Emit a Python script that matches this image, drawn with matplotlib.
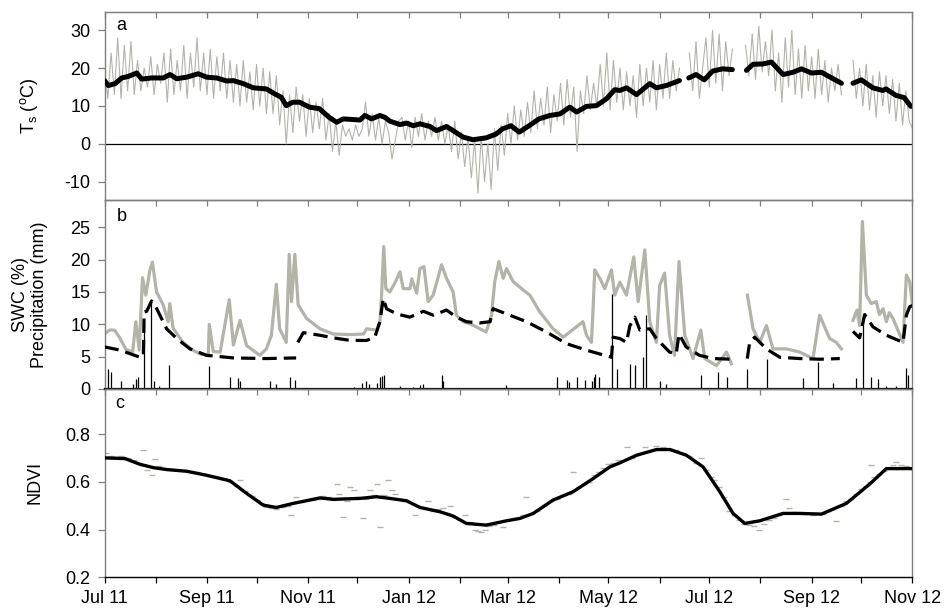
import numpy as np
import matplotlib
matplotlib.use('Agg')
import matplotlib.pyplot as plt
import matplotlib.dates as mdates
from datetime import datetime

plt.rcParams['font.family'] = ['Liberation Sans', 'DejaVu Sans']
plt.rcParams['axes.unicode_minus'] = False

# ---- data (days since 1 Jul 2011) ----
# soil temperature, half-hourly trace sampled every 2 days, split at logger gaps
ts_raw_1 = [20, 12, 24, 13, 28, 12, 26, 14, 27, 13,
            22, 14, 20, 15, 23, 13, 21, 16, 24, 11,
            25, 13, 22, 14, 26, 12, 24, 15, 28, 14,
            24, 13, 25, 12, 23, 14, 24, 12, 22, 11,
            21, 10, 22, 11, 19, 9, 21, 10, 20, 8,
            19, 8, 18, 5, 14, 0, 13, 3, 15, 6,
            13, 2, 12, 3, 11, 4, 12, 1, 8, -2,
            6, -3, 5, 2, 4, 1, 5, 2, 4, 11,
            2, 8, 1, 7, 0, 6, 3, -4, 1, 6,
            7, 1, 6, -1, 7, 2, 8, 1, 6, 2,
            7, 1, 6, 0, 5, -2, 6, -4, 3, -6,
            2, -9, 1, -13, 2, -10, 0, -12, 4, -7,
            5, -3, 8, 0, 10, 1, 9, 2, 11, 3,
            14, 4, 12, 5, 15, 3, 13, 6, 16, 5,
            17, 7, 15, -2, 14, 8, 18, 9, 16, 10,
            21, 10, 24, 9, 22, 11, 20, 9, 19, 10,
            18, 7, 21, 10, 20, 11, 22, 9, 21, 12,
            24, 12, 22, 14, 20]
ts_raw_2 = [24, 14, 27, 12, 20, 28, 15, 30, 16, 29, 14, 27, 18, 25]
ts_raw_3 = [26, 18, 29, 17, 31, 19, 27, 18, 30, 14, 24, 11, 28, 15, 30,
            13, 25, 12, 26, 14, 23, 12, 25, 13, 22, 11, 20, 14, 21, 13]
ts_raw_4 = [22, 12, 20, 10, 21, 9, 18, 7, 19, 10, 18, 8, 17, 6, 16, 5, 14, 6, 4]
ts_raw_start = [0, 354, 388, 453]

# daily mean soil temperature
ts_mean_1 = [(0, 16.7), (2.3, 15.4), (6.4, 15.9), (10.4, 17.4), (14.4, 17.8), (19.5, 18.7),
             (22.5, 17.1), (28.5, 17.4), (35.6, 17.4), (39.6, 18.3), (43.7, 17.2), (49.7, 17.6),
             (56.7, 18.5), (61.8, 17.6), (67.9, 17.4), (73.9, 16.6), (77.9, 16.7), (84, 15.9),
             (90, 14.8), (98, 14.5), (103, 13.2), (107, 12.3), (110, 10.1), (114, 11.0),
             (118, 11.0), (124, 9.7), (130, 9.3), (136, 7.0), (140.5, 5.7), (144.5, 6.6),
             (154.6, 6.3), (157.6, 7.5), (161.6, 6.6), (166.7, 7.5), (169.7, 7.0), (172.7, 6.0),
             (178.8, 5.1), (182.8, 5.5), (186.8, 4.8), (190.9, 5.3), (196.9, 4.6), (201, 3.5),
             (207, 4.6), (211, 3.5), (217, 1.8), (223, 1.1), (231, 1.6), (237, 2.6), (241, 4.0),
             (246, 4.8), (251, 3.1), (257, 4.8), (263, 6.6), (269.5, 7.5), (275.6, 7.9),
             (281.6, 9.7), (285.7, 8.4), (291.7, 9.9), (297.8, 10.1), (303.8, 11.9), (308.8, 14.3),
             (311.9, 14.1), (316, 14.8), (322, 13.0), (330, 15.9), (334, 14.8), (340, 15.4),
             (348, 16.7)]
ts_mean_2 = [(353.6, 17.4), (358, 18.3), (363, 16.9), (368, 19.2), (374, 19.8), (380, 19.6)]
ts_mean_3 = [(388.5, 19.4), (392.5, 21.0), (398.6, 21.1), (403.6, 21.6), (410.7, 18.3),
             (416.7, 18.9), (421.8, 19.8), (427.8, 18.7), (433.9, 18.9), (440.9, 17.2), (446, 16.0)]
ts_mean_4 = [(453, 16.0), (458, 16.9), (465, 14.8), (471, 14.1), (473, 14.5), (479, 12.8),
             (484, 12.2), (488, 9.9)]

# soil water content, shallow sensor (grey)
swc_top_1 = [(0, 8.5), (3, 9.1), (6, 9.1), (9, 8.0), (13, 6.1), (17, 5.7), (19, 10.4), (21, 6.0),
             (23, 17.2), (25, 14.5), (27.5, 18.4), (29, 19.6), (31.5, 15.0), (35.5, 13.0),
             (38.5, 10.4), (39.5, 13.2), (41.5, 9.4), (47.5, 7.2), (53.5, 6.0), (58, 5.4),
             (62.8, 5.2), (63.4, 10.0), (65.8, 5.8), (70, 5.7), (75.5, 13.8), (78, 6.8),
             (82, 10.6), (86, 6.7), (94, 5.2), (98, 6.2), (101, 8.3), (104, 16.2), (106, 9.3),
             (110, 7.2), (111.8, 20.8), (113.2, 13.5), (115.2, 20.8), (117.2, 13.0), (122.3, 10.9),
             (130.4, 9.3), (138.5, 8.5), (148.8, 8.4), (156.8, 8.5), (158.6, 9.3), (164.6, 9.1),
             (166.7, 10.4), (167.7, 14.5), (169, 22.0), (170.3, 15.5), (172.7, 15.0), (176, 16.5),
             (178.8, 18.1), (180.8, 15.5), (184.8, 15.5), (186, 17.0), (188.9, 14.8), (190.9, 18.6),
             (193.3, 18.9), (195.9, 13.5), (198.9, 14.5), (204, 19.2), (207, 17.1), (211, 15.0),
             (213, 11.4), (217, 10.4), (221, 10.1), (225, 9.6), (231, 8.8), (234.2, 11.4),
             (236.2, 16.6), (238.7, 19.7), (241.3, 17.1), (243.3, 18.6), (247.3, 16.6),
             (253.4, 15.3), (257.4, 14.5), (263.5, 11.9), (271.5, 9.3), (277.6, 8.0), (281.6, 8.8),
             (289.6, 10.4), (291.7, 8.3), (294.7, 7.2), (295.7, 12.4), (296.7, 18.4), (299.8, 17.1),
             (302.8, 15.5), (306.8, 18.4), (308.8, 14.5), (311.9, 16.5), (315.9, 14.5),
             (320.3, 20.4), (323, 13.5), (327, 21.5), (330, 10.4), (334, 7.2), (336, 16.0),
             (339, 17.9), (342, 8.3), (345, 5.2), (347.7, 19.7), (351.2, 8.3), (356.2, 4.7),
             (360.9, 9.1), (363.3, 4.7), (370.4, 3.6), (376.4, 5.7), (379.4, 3.9)]
swc_top_2 = [(389.1, 14.5), (392.5, 9.3), (396.6, 7.2), (400.6, 9.8), (404.6, 6.2), (412.7, 6.2),
             (420.8, 5.7), (428.8, 4.7), (432.8, 11.4), (438.9, 7.8), (442.9, 7.2), (446, 6.2)]
swc_top_3 = [(453, 10.6), (455.4, 12.2), (457, 9.8), (458.7, 25.9), (461.1, 14.5), (464, 13.2),
             (467.1, 13.5), (469, 11.5), (471.2, 12.4), (473.2, 10.4), (475, 11.8), (477.2, 10.9),
             (483.3, 7.2), (485.3, 17.6), (487.3, 16.6), (489, 12.9)]

# soil water content, deeper sensor (black dashed)
swc_deep_1 = [(0, 6.5), (9.5, 6.0), (21.5, 4.9), (23.5, 5.0), (24, 11.9), (25.5, 12.0),
              (28.5, 13.6), (31.6, 12.4), (37.6, 9.3), (43.7, 7.8), (51.7, 6.2), (61.8, 5.2),
              (77.9, 4.8), (98, 4.7), (116, 4.8)]
swc_deep_2 = [(117, 7.2), (120.3, 8.7), (130.4, 8.3), (138.5, 7.9), (148.8, 7.5), (158.6, 7.5),
              (163.6, 8.0), (166.7, 10.4), (168.7, 14.0), (170.7, 12.4), (176.8, 11.6),
              (184.8, 11.1), (193, 12.0), (199, 11.4), (207, 12.2), (213, 11.1), (219, 10.4),
              (227, 10.2), (233.4, 10.4), (235.2, 12.4), (243.3, 11.6), (255.4, 10.4),
              (267.5, 8.8), (279.6, 7.0), (291.7, 6.0), (306.8, 4.9), (307.8, 8.0), (311.9, 7.8),
              (315.9, 7.2), (318, 9.8), (321, 11.1), (324, 9.1), (330, 9.3), (334, 7.8),
              (342, 5.7), (346, 5.4), (347.7, 8.5), (352, 6.5), (360, 5.2), (368.5, 4.7),
              (379.4, 4.6)]
swc_deep_3 = [(389, 4.7), (390.5, 7.2), (393.5, 8.0), (400.6, 6.2), (408.7, 4.9), (420.8, 4.7),
              (432.8, 4.6), (445, 4.7)]
swc_deep_4 = [(453, 8.9), (457, 7.9), (460.1, 11.5), (465.1, 9.6), (473.2, 8.3), (483.3, 7.2),
              (485.3, 11.4), (487.3, 12.7), (489, 12.9)]

# daily precipitation (mm)
rain = [(2, 3.1), (4, 2.7), (10, 1.2), (17, 0.8), (19, 1.6), (20, 1.8), (24, 10.5), (28, 13.4),
        (30, 1.3), (33, 0.4), (39, 3.7), (63, 3.6), (76, 1.8), (81, 1.7), (82, 1.3), (100, 1.3),
        (104, 0.8), (112, 1.8), (115, 1.4), (151, 0.3), (156, 1.0), (158, 1.3), (160, 0.8),
        (165, 0.9), (167, 1.8), (168, 2.0), (169, 2.1), (179, 0.4), (187, 0.3), (191, 0.6),
        (193, 0.8), (204, 2.1), (205, 1.3), (228, 0.2), (243, 0.6), (274, 1.8), (280, 1.4),
        (281, 1.1), (286, 1.8), (291, 1.4), (295, 1.3), (296, 1.8), (297, 2.3), (299, 1.8),
        (307, 14.6), (310, 3.1), (318, 3.9), (321, 3.7), (326, 4.9), (328, 11.4), (336, 1.3),
        (340, 0.8), (361, 2.2), (371, 2.7), (377, 1.8), (389, 3.1), (401, 4.6), (423, 1.7),
        (432, 4.2), (441, 0.9), (455, 1.7), (459, 11.6), (464, 1.8), (468, 1.6), (473, 0.4),
        (479, 0.5), (485, 3.2), (486, 2.1)]

# NDVI: daily retrievals (grey dashes) and smoothed curve
ndvi_obs = [(1, 0.72), (4, 0.71), (7, 0.705), (10, 0.71), (14, 0.70), (18, 0.69), (21, 0.68),
            (23.5, 0.733), (25.5, 0.649), (28.5, 0.63), (30.6, 0.698), (33, 0.665), (36, 0.66),
            (40, 0.655), (44, 0.65), (48, 0.645), (52, 0.64), (56, 0.64), (60, 0.635), (64, 0.625),
            (68, 0.62), (72, 0.612), (76, 0.60), (80, 0.585), (82, 0.607), (85, 0.56), (89, 0.54),
            (92, 0.525), (95, 0.51), (98, 0.495), (101, 0.49), (104, 0.485), (108, 0.495),
            (111, 0.50), (113, 0.461), (116, 0.535), (119, 0.515), (122, 0.52), (126, 0.525),
            (129, 0.53), (132, 0.54), (135, 0.535), (138, 0.525), (140.5, 0.593), (142, 0.55),
            (144.5, 0.454), (147, 0.52), (148.8, 0.58), (151, 0.565), (153, 0.535), (156.6, 0.447),
            (158, 0.53), (160.6, 0.566), (163, 0.545), (165, 0.593), (166.7, 0.409), (169, 0.545),
            (171.7, 0.61), (174, 0.566), (176, 0.55), (178, 0.53), (181, 0.52), (184, 0.515),
            (187.9, 0.461), (190, 0.50), (193, 0.495), (196, 0.52), (199, 0.48), (202, 0.485),
            (205, 0.49), (207, 0.47), (209, 0.50), (212, 0.455), (215, 0.44), (218, 0.46),
            (221, 0.43), (224, 0.40), (226, 0.395), (228, 0.39), (230, 0.40), (233, 0.415),
            (236, 0.42), (239, 0.43), (241, 0.41), (244, 0.44), (247, 0.445), (250, 0.45),
            (253, 0.46), (255.4, 0.538), (258, 0.465), (262, 0.48), (266, 0.50), (270, 0.52),
            (274, 0.53), (278, 0.545), (281, 0.55), (283.6, 0.642), (287, 0.58), (290, 0.59),
            (293, 0.60), (296, 0.63), (299, 0.64), (302, 0.66), (305, 0.675), (308, 0.68),
            (311, 0.69), (316, 0.747), (319, 0.70), (322, 0.715), (325, 0.72), (327, 0.745),
            (330, 0.73), (334, 0.75), (338, 0.745), (342, 0.74), (346, 0.735), (350, 0.72),
            (354, 0.71), (358, 0.68), (361, 0.70), (364, 0.65), (367, 0.62), (369, 0.61),
            (372, 0.58), (375, 0.535), (378, 0.48), (381, 0.46), (384, 0.44), (387, 0.425),
            (390, 0.42), (393, 0.415), (396, 0.40), (399, 0.425), (402, 0.44), (405, 0.45),
            (408, 0.46), (410, 0.47), (412.7, 0.527), (414, 0.49), (417, 0.475), (420, 0.47),
            (423, 0.465), (426, 0.47), (429, 0.46), (432, 0.47), (435, 0.465), (438, 0.48),
            (440, 0.485), (443, 0.437), (446, 0.50), (449, 0.52), (452, 0.53), (455, 0.55),
            (458, 0.57), (461, 0.585), (463, 0.60), (464.1, 0.67), (466, 0.62), (469, 0.635),
            (472, 0.645), (475, 0.66), (477, 0.67), (479.2, 0.684), (482, 0.67), (485, 0.665),
            (488, 0.66)]
ndvi_fit = [(0, 0.701), (12.4, 0.698), (21.5, 0.674), (29.6, 0.66), (37.6, 0.652), (49.7, 0.645),
            (61.8, 0.628), (75.9, 0.605), (86, 0.552), (96, 0.503), (104, 0.493), (114.2, 0.51),
            (130.4, 0.533), (138.5, 0.527), (154.6, 0.531), (164.6, 0.538), (172.7, 0.531),
            (182.8, 0.521), (190.9, 0.493), (203, 0.475), (211, 0.457), (219, 0.426), (231, 0.419),
            (243.3, 0.437), (251.4, 0.447), (259.5, 0.468), (271.5, 0.524), (283.6, 0.559),
            (295.7, 0.614), (305.8, 0.663), (311.9, 0.68), (322, 0.712), (334.1, 0.736),
            (342.2, 0.736), (352.2, 0.712), (362.3, 0.663), (372.4, 0.559), (380.4, 0.468),
            (387.5, 0.426), (396.6, 0.437), (410.7, 0.468), (420.8, 0.468), (433.9, 0.465),
            (449, 0.51), (463.1, 0.591), (473.2, 0.656), (489, 0.656)]

# ---- helpers ----
t0 = mdates.date2num(datetime(2011, 7, 1))
t1 = mdates.date2num(datetime(2012, 11, 1))


def xy(pairs):
    d, v = zip(*pairs)
    return t0 + np.array(d), np.array(v)


grey = '#b3b3a8'
spine_grey = '#7f7f7f'

fig = plt.figure(figsize=(9.44, 6.12), dpi=100)
L, W = 0.1107, 0.8559
ax_a = fig.add_axes([L, 0.6732, W, 0.3072])
ax_b = fig.add_axes([L, 0.3644, W, 0.3088])
ax_c = fig.add_axes([L, 0.0567, W, 0.3077])
axes = [ax_a, ax_b, ax_c]

# panel a: soil temperature
for start, vals in zip(ts_raw_start, [ts_raw_1, ts_raw_2, ts_raw_3, ts_raw_4]):
    days = start + 2 * np.arange(len(vals))
    ax_a.plot(t0 + days, vals, color=grey, lw=0.8, zorder=2)
for seg in [ts_mean_1, ts_mean_2, ts_mean_3, ts_mean_4]:
    x, y = xy(seg)
    ax_a.plot(x, y, color='black', lw=3.6, solid_capstyle='round', zorder=3)
ax_a.axhline(0, color='black', lw=0.9, zorder=1)
ax_a.set_ylim(-14.8, 34.8)
ax_a.set_yticks([-10, 0, 10, 20, 30])

# panel b: soil water content and precipitation
x, y = xy(rain)
ax_b.vlines(x, 0, y, color='black', lw=0.9, zorder=4)
for seg in [swc_top_1, swc_top_2, swc_top_3]:
    x, y = xy(seg)
    ax_b.plot(x, y, color=grey, lw=2.3, zorder=2)
for seg in [swc_deep_1, swc_deep_2, swc_deep_3, swc_deep_4]:
    x, y = xy(seg)
    ax_b.plot(x, y, color='black', lw=2.3, dashes=(4.5, 2.2), zorder=3)
ax_b.set_ylim(0, 29.2)
ax_b.set_yticks([0, 5, 10, 15, 20, 25])

# panel c: NDVI
x, y = xy(ndvi_obs)
ax_c.plot(x, y, ls='none', marker='_', ms=4, mew=1.0, color=grey, zorder=2)
x, y = xy(ndvi_fit)
ax_c.plot(x, y, color='black', lw=2.4, zorder=3)
ax_c.set_ylim(0.2, 0.99)
ax_c.set_yticks([0.2, 0.4, 0.6, 0.8])

# shared axis styling
for ax in axes:
    ax.set_facecolor('none')
    ax.set_xlim(t0, t1)
    ax.xaxis.set_major_locator(mdates.MonthLocator(bymonth=[1, 3, 5, 7, 9, 11]))
    ax.xaxis.set_minor_locator(mdates.MonthLocator())
    ax.xaxis.set_major_formatter(mdates.DateFormatter('%b %y'))
    for s in ['left', 'right', 'top', 'bottom']:
        ax.spines[s].set_color(spine_grey)
        ax.spines[s].set_linewidth(1.0)
    ax.tick_params(axis='y', direction='out', length=5, width=0.9, color=spine_grey,
                   labelsize=13, pad=5)
    ax.tick_params(axis='x', which='both', bottom=(ax is ax_c), top=False,
                   labelbottom=(ax is ax_c), direction='out', length=4, width=0.9,
                   color='black', labelsize=13, pad=5)
    top = ax.secondary_xaxis('top')
    top.xaxis.set_major_locator(mdates.MonthLocator())
    top.tick_params(axis='x', direction='in', length=4, width=0.9, color=spine_grey,
                    labeltop=False)
    top.spines['top'].set_color(spine_grey)

ax_b.spines['bottom'].set_color('black')
ax_b.spines['bottom'].set_linewidth(1.6)
ax_c.spines['bottom'].set_color('black')

# panel letters
ax_a.text(0.015, 0.904, 'a', transform=ax_a.transAxes, fontsize=13)
ax_b.text(0.015, 0.889, 'b', transform=ax_b.transAxes, fontsize=13)
ax_c.text(0.013, 0.897, 'c', transform=ax_c.transAxes, fontsize=13)

# axis titles
fig.text(0.031, 0.827, 'T$_{\\mathregular{s}}$ ($^{\\mathregular{o}}$C)', rotation=90,
         ha='center', va='center', fontsize=13)
fig.text(0.032, 0.519, 'SWC (%)\nPrecipitation (mm)', rotation=90, ha='center',
         va='center', fontsize=13, multialignment='center', linespacing=1.15)
fig.text(0.037, 0.211, 'NDVI', rotation=90, ha='center', va='center', fontsize=13)

fig.savefig('out.png', dpi=100)
